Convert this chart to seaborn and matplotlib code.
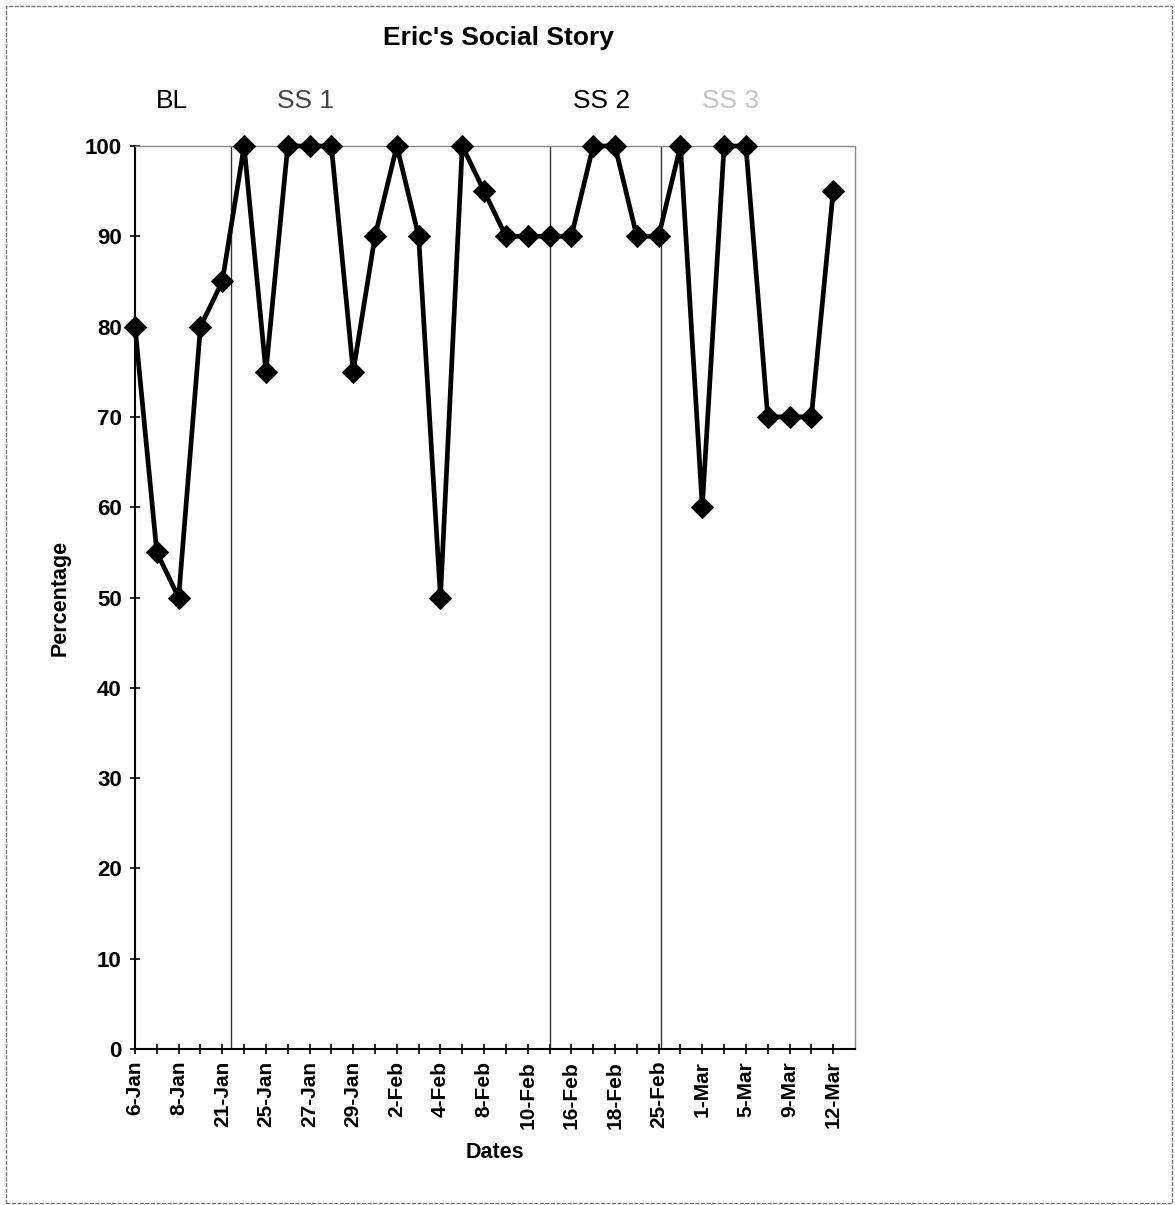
import matplotlib
matplotlib.use("Agg")
import matplotlib.pyplot as plt
from matplotlib.patches import Rectangle
import seaborn as sns
import pandas as pd

# Session dates (every category is a session; every other date is labelled)
dates = ["6-Jan", "7-Jan", "8-Jan", "9-Jan", "21-Jan", "22-Jan", "25-Jan", "26-Jan",
         "27-Jan", "28-Jan", "29-Jan", "30-Jan", "2-Feb", "3-Feb", "4-Feb", "5-Feb",
         "8-Feb", "9-Feb", "10-Feb", "11-Feb", "16-Feb", "17-Feb", "18-Feb", "19-Feb",
         "25-Feb", "26-Feb", "1-Mar", "2-Mar", "5-Mar", "6-Mar", "9-Mar", "10-Mar", "12-Mar"]
percentages = [80, 55, 50, 80, 85, 100, 75, 100, 100, 100, 75, 90, 100, 90, 50, 100,
               95, 90, 90, 90, 90, 100, 100, 90, 90, 100, 60, 100, 100, 70, 70, 70, 95]

# Phase changes (in session index units) and phase names
phase_breaks = [4.4, 19.0, 24.1]
phase_names = ["BL", "SS 1", "SS 2", "SS 3"]
phase_label_x = [1.7, 7.8, 21.4, 27.3]
phase_colors = ["black", "#444444", "black", "#c4c4c4"]

y_ticks = list(range(0, 101, 10))

df = pd.DataFrame({"session": range(len(dates)), "pct": percentages})

sns.set_theme(style="white")
plt.rcParams["font.family"] = ["Liberation Sans", "DejaVu Sans"]
plt.rcParams.update({"text.color": "black", "axes.labelcolor": "black",
                     "xtick.color": "black", "ytick.color": "black"})

W, H = 1175, 1205
fig = plt.figure(figsize=(W / 100, H / 100), dpi=100)
ax = fig.add_axes([135 / W, 1 - 1049 / H, (855 - 135) / W, (1049 - 146) / H])

for xb in phase_breaks:
    ax.axvline(xb, color="#333333", lw=1.0, zorder=1)

sns.lineplot(data=df, x="session", y="pct", ax=ax, color="black", lw=3.4,
             marker="D", markersize=11, markeredgecolor="black",
             markerfacecolor="black", zorder=3, clip_on=False)

ax.set_xlim(0, 33)
ax.set_ylim(0, 100)
ax.set_xticks(range(len(dates)))
ax.set_xticklabels([d if i % 2 == 0 else "" for i, d in enumerate(dates)],
                   rotation=90, fontweight="bold", fontsize=15)
ax.set_yticks(y_ticks)
ax.set_yticklabels([str(v) for v in y_ticks], fontweight="bold", fontsize=16)
ax.tick_params(axis="both", direction="inout", length=7, width=1.2, color="black",
               labelcolor="black", bottom=True, left=True)
ax.tick_params(axis="x", pad=5)
ax.tick_params(axis="y", pad=6)

for side in ["left", "bottom"]:
    ax.spines[side].set_color("black")
    ax.spines[side].set_linewidth(1.5)
for side in ["top", "right"]:
    ax.spines[side].set_color("#888888")
    ax.spines[side].set_linewidth(1.0)
    ax.spines[side].set_linestyle((0, (2, 1)))

ax.set_xlabel("Dates", fontweight="bold", fontsize=15.5, labelpad=10, color="black")
ax.set_ylabel("Percentage", fontweight="bold", fontsize=15.5, labelpad=10, color="black")

for name, x, c in zip(phase_names, phase_label_x, phase_colors):
    ax.text(x, 105, name, ha="center", va="center", fontsize=19, color=c, clip_on=False)

fig.text(498 / W, 1 - 38 / H, "Eric's Social Story", ha="center", va="center",
         fontsize=19, fontweight="bold", color="black")

fig.patches.append(Rectangle((6 / W, 2 / H), (W - 9) / W, (H - 8) / H,
                             transform=fig.transFigure, fill=False,
                             edgecolor="#777777", lw=1.0, linestyle=(0, (3, 1))))

fig.savefig("out.png", dpi=100)
